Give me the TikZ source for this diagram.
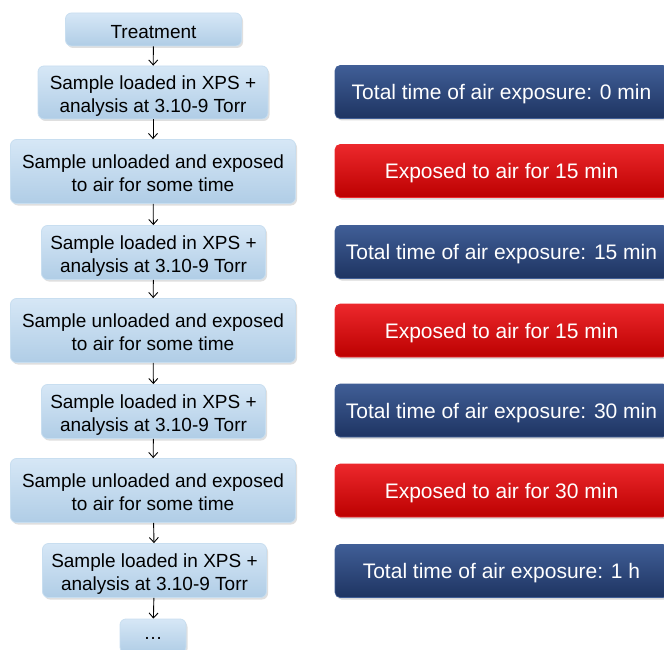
\documentclass[tikz,border=0pt]{standalone}
\usepackage{fontspec}
\setmainfont{Liberation Sans}
\usetikzlibrary{arrows.meta,shadows}
\definecolor{lbtop}{RGB}{214,231,246}
\definecolor{lbbot}{RGB}{176,205,230}
\definecolor{lbdraw}{RGB}{200,222,240}
\definecolor{dbtop}{RGB}{64,94,150}
\definecolor{dbbot}{RGB}{30,52,98}
\definecolor{rdtop}{RGB}{236,40,44}
\definecolor{rdbot}{RGB}{188,0,0}
\newcommand{\twoline}[2]{\raisebox{-3.5pt}[\height][\depth]{\begin{tabular}{@{}c@{}}#1\\#2\end{tabular}}}
\newcommand{\oneline}[1]{\raisebox{-2.5pt}[\height][\depth]{#1}}
\tikzset{
  lbox/.style={rounded corners=6pt, draw=lbdraw, line width=0.8pt,
    top color=lbtop, bottom color=lbbot, align=center, inner sep=0pt,
    text=black, font=\fontsize{19}{23}\selectfont,
    drop shadow={shadow xshift=1.5pt, shadow yshift=-2pt, opacity=0.25}},
  bbox/.style={rounded corners=5pt, draw=dbtop, line width=0.6pt,
    top color=dbtop, bottom color=dbbot, inner sep=0pt, text=white,
    font=\fontsize{21}{25}\selectfont, minimum width=333pt, minimum height=53pt,
    drop shadow={shadow xshift=1.5pt, shadow yshift=-2pt, opacity=0.3}},
  rbox/.style={bbox, draw=rdtop, top color=rdtop, bottom color=rdbot},
  flow/.style={draw=black, line width=0.9pt, -{Straight Barb[length=5pt,width=9pt]}}
}
\begin{document}
\begin{tikzpicture}[x=1pt,y=-1pt]
\useasboundingbox (0,0) rectangle (664,650);
% left column
\node[lbox, minimum width=176pt, minimum height=33pt] (t) at (153.5,29.5) {\oneline{Treatment}};
\node[lbox, minimum width=230pt, minimum height=53pt] (l1) at (153,92.5) {\twoline{Sample loaded in XPS +}{analysis at 3.10-9 Torr}};
\node[lbox, minimum width=285pt, minimum height=64pt] (u1) at (153,171.5) {\twoline{Sample unloaded and exposed}{to air for some time}};
\node[lbox, minimum width=224pt, minimum height=54pt] (l2) at (153.5,252.5) {\twoline{Sample loaded in XPS +}{analysis at 3.10-9 Torr}};
\node[lbox, minimum width=285pt, minimum height=64pt] (u2) at (153,330.5) {\twoline{Sample unloaded and exposed}{to air for some time}};
\node[lbox, minimum width=224pt, minimum height=54pt] (l3) at (153.5,411.5) {\twoline{Sample loaded in XPS +}{analysis at 3.10-9 Torr}};
\node[lbox, minimum width=285pt, minimum height=64pt] (u3) at (153,490.5) {\twoline{Sample unloaded and exposed}{to air for some time}};
\node[lbox, minimum width=224pt, minimum height=54pt] (l4) at (154.5,570.5) {\twoline{Sample loaded in XPS +}{analysis at 3.10-9 Torr}};
\node[lbox, minimum width=66pt, minimum height=34pt] (d) at (153,636) {\oneline{…}};
\draw[flow] (t) -- (l1);
\draw[flow] (l1) -- (u1);
\draw[flow] (u1) -- (l2);
\draw[flow] (l2) -- (u2);
\draw[flow] (u2) -- (l3);
\draw[flow] (l3) -- (u3);
\draw[flow] (u3) -- (l4);
\draw[flow] (l4) -- (d);
% right column
\node[bbox] (b1) at (501.5,92) {\oneline{Total time of air exposure: 0 min}};
\node[rbox] (r1) at (501.5,171) {\oneline{Exposed to air for 15 min}};
\node[bbox] (b2) at (501.5,252) {\oneline{Total time of air exposure: 15 min}};
\node[rbox] (r2) at (501.5,330.5) {\oneline{Exposed to air for 15 min}};
\node[bbox] (b3) at (501.5,410.5) {\oneline{Total time of air exposure: 30 min}};
\node[rbox] (r3) at (501.5,490.5) {\oneline{Exposed to air for 30 min}};
\node[bbox] (b4) at (501.5,571) {\oneline{Total time of air exposure: 1 h}};
\end{tikzpicture}
\end{document}
